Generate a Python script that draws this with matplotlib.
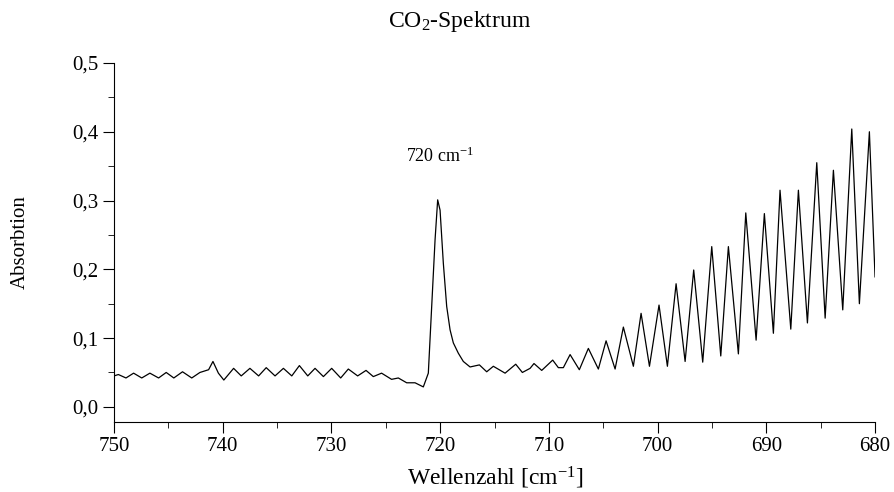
import matplotlib
matplotlib.use("Agg")
import matplotlib.pyplot as plt
from matplotlib.ticker import MultipleLocator, FuncFormatter

plt.rcParams['font.family'] = ['Liberation Serif', 'DejaVu Serif']
plt.rcParams['mathtext.fontset'] = 'custom'
plt.rcParams['mathtext.rm'] = 'Liberation Serif'
plt.rcParams['mathtext.it'] = 'Liberation Serif:italic'

# values
wellenzahl = [750.0, 749.6, 748.9, 748.2, 747.45, 746.7, 745.9, 745.2, 744.5, 743.7,
              742.85, 742.1, 741.3, 740.9, 740.4, 739.9, 739.0, 738.3, 737.5, 736.7,
              736.0, 735.19, 734.42, 733.65, 732.95, 732.18, 731.51, 730.74, 729.98, 729.15,
              728.45, 727.59, 726.82, 726.15, 725.39, 724.47, 723.85, 723.08, 722.31, 721.55,
              721.09, 720.78, 720.47, 720.23, 720.01, 719.71, 719.40, 719.09, 718.79, 718.33,
              717.87, 717.25, 716.39, 715.72, 715.11, 714.03, 713.05, 712.44, 711.73, 711.37,
              710.66, 709.65, 709.13, 708.67, 708.05, 707.20, 706.37, 705.45, 704.74, 703.91,
              703.15, 702.23, 701.52, 700.75, 699.87, 699.10, 698.30, 697.47, 696.68, 695.85,
              695.02, 694.19, 693.49, 692.57, 691.89, 690.94, 690.18, 689.35, 688.74, 687.75,
              687.05, 686.22, 685.36, 684.59, 683.83, 682.97, 682.14, 681.44, 680.52, 680.0]
absorbtion = [0.045, 0.047, 0.042, 0.049, 0.042, 0.049, 0.042, 0.050, 0.042, 0.051,
              0.042, 0.050, 0.054, 0.066, 0.049, 0.039, 0.056, 0.045, 0.056, 0.045,
              0.057, 0.045, 0.056, 0.045, 0.060, 0.045, 0.056, 0.044, 0.056, 0.042,
              0.055, 0.045, 0.053, 0.044, 0.049, 0.040, 0.042, 0.035, 0.035, 0.029,
              0.049, 0.146, 0.243, 0.301, 0.286, 0.209, 0.146, 0.112, 0.093, 0.078,
              0.066, 0.058, 0.061, 0.051, 0.059, 0.049, 0.062, 0.050, 0.056, 0.063,
              0.053, 0.068, 0.057, 0.057, 0.076, 0.054, 0.085, 0.055, 0.096, 0.055,
              0.116, 0.059, 0.136, 0.059, 0.148, 0.059, 0.179, 0.066, 0.199, 0.065,
              0.233, 0.074, 0.233, 0.077, 0.282, 0.097, 0.281, 0.107, 0.315, 0.113,
              0.315, 0.122, 0.355, 0.129, 0.344, 0.141, 0.404, 0.150, 0.400, 0.189]

fig = plt.figure(figsize=(8.95, 4.92), dpi=100)
ax = fig.add_axes([0.1274, 0.1423, 0.8503, 0.7297])

ax.plot(wellenzahl, absorbtion, color='black', lw=0.9)

ax.set_xlim(750, 680)
ax.set_ylim(-0.022, 0.5)

ax.spines['top'].set_visible(False)
ax.spines['right'].set_visible(False)

ax.xaxis.set_major_locator(MultipleLocator(10))
ax.xaxis.set_minor_locator(MultipleLocator(5))
ax.yaxis.set_major_locator(MultipleLocator(0.1))
ax.yaxis.set_minor_locator(MultipleLocator(0.05))
ax.yaxis.set_major_formatter(FuncFormatter(lambda v, p: f"{v:.1f}".replace('.', ',')))
ax.tick_params(which='major', length=8, labelsize=15)
ax.tick_params(which='minor', length=4)
ax.tick_params(axis='x', pad=3)

ax.set_xlabel(r'Wellenzahl [cm$^{-1}$]', fontsize=17, va='center')
ax.xaxis.set_label_coords(0.5007, -0.156)
ax.set_ylabel('Absorbtion', fontsize=15, va='center')
ax.yaxis.set_label_coords(-0.1235, 0.5)
fig.text(0.514, 1 - 22 / 492, r'CO$_2$-Spektrum', ha='center', va='center', fontsize=17)

ax.text(720, 0.365, r'720 cm$^{-1}$', ha='center', va='center', fontsize=13)

fig.savefig('out.png', dpi=100)
